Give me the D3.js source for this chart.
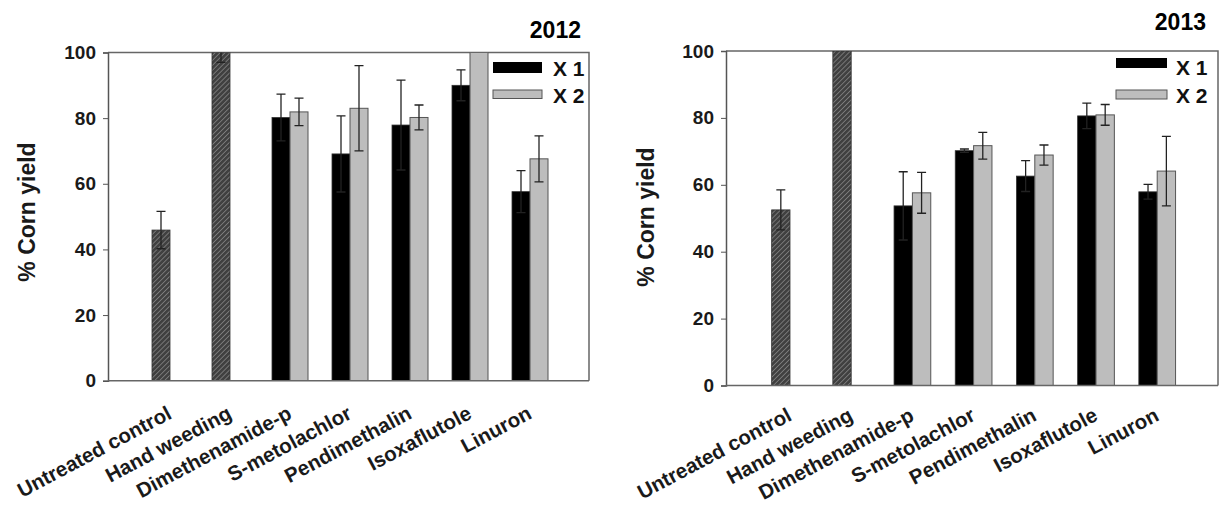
<!DOCTYPE html>
<html>
<head>
<meta charset="utf-8">
<script src="https://cdn.jsdelivr.net/npm/d3@7"></script>
<style>
  html, body { margin: 0; padding: 0; background: #fff; }
  svg { display: block; font-family: "Liberation Sans", Arial, sans-serif; font-weight: bold; }
</style>
</head>
<body>
<svg id="chart" width="1221" height="506"></svg>
<script>
// Treatments on the x axis
const categories = ["Untreated control", "Hand weeding", "Dimethenamide-p", "S-metolachlor",
                    "Pendimethalin", "Isoxaflutole", "Linuron"];
const seriesNames = ["X 1", "X 2"];
const yTicks = [0, 20, 40, 60, 80, 100];

// 2012 corn yield (% of hand-weeded check) and error
const yield2012X1 = [45.9, 100, 80.2, 69.1, 77.9, 90.0, 57.6];
const err2012X1   = [5.7, 3.0, 7.1, 11.6, 13.7, 4.7, 6.4];
const yield2012X2 = [null, null, 81.9, 83.0, 80.2, 100, 67.6];
const err2012X2   = [null, null, 4.2, 13.0, 3.8, 0, 7.0];

// 2013 corn yield and error
const yield2013X1 = [52.5, 100, 53.7, 70.2, 62.6, 80.6, 57.9];
const err2013X1   = [6.0, 0, 10.2, 0.5, 4.6, 3.8, 2.2];
const yield2013X2 = [null, null, 57.6, 71.7, 68.9, 80.9, 64.1];
const err2013X2   = [null, null, 6.1, 4.0, 3.0, 3.1, 10.4];

const svg = d3.select("#chart");

// hatched fill for the two reference treatments
const defs = svg.append("defs");
const pat = defs.append("pattern")
  .attr("id", "hatch").attr("patternUnits", "userSpaceOnUse")
  .attr("width", 3.5).attr("height", 3.5)
  .attr("patternTransform", "rotate(45)");
pat.append("rect").attr("width", 3.5).attr("height", 3.5).attr("fill", "#404040");
pat.append("line").attr("x1", 0).attr("y1", 0).attr("x2", 0).attr("y2", 3.5)
  .attr("stroke", "#8c8c8c").attr("stroke-width", 1.4);

const panels = [
  { id: "p2012", title: "2012", x1: yield2012X1, e1: err2012X1, x2: yield2012X2, e2: err2012X2,
    frame: [108, 589], yr: [380.7, 52.5], band: [140, 560],
    titlePos: [581, 38], ylab: [27, 212], labDy: 37,
    legend: { x: 493, w: 49, y1: 62, h1: 11, y2: 90, h2: 8.5, tx: 553, t1: 76, t2: 103 } },
  { id: "p2013", title: "2013", x1: yield2013X1, e1: err2013X1, x2: yield2013X2, e2: err2013X2,
    frame: [726, 1218], yr: [385.5, 51], band: [759.4, 1187.8],
    titlePos: [1206, 30], ylab: [646, 217], labDy: 34,
    legend: { x: 1116, w: 51, y1: 58, h1: 10, y2: 90, h2: 9, tx: 1176, t1: 75, t2: 103 } }
];

panels.forEach(p => {
  const g = svg.append("g").attr("id", p.id);
  const [L, R] = p.frame;
  const y = d3.scaleLinear().domain([0, 100]).range(p.yr);
  const x = d3.scaleBand().domain(categories).range(p.band).paddingInner(0.4).paddingOuter(0.2);
  const xs = d3.scaleBand().domain(seriesNames).range([0, x.bandwidth()]);
  const top = y(100), bot = y(0);

  // clip everything to the plotting frame
  g.append("clipPath").attr("id", "clip-" + p.id)
    .append("rect").attr("x", L).attr("y", top).attr("width", R - L).attr("height", bot - top);

  // top and right frame lines
  g.append("path")
    .attr("d", `M${L},${top}H${R}V${bot}`)
    .attr("fill", "none").attr("stroke", "#666").attr("stroke-width", 1.5);

  const rows = categories.map((c, i) => ({ c, i }));
  const plot = g.append("g").attr("clip-path", `url(#clip-${p.id})`);

  // first series (hatched for the two reference treatments)
  plot.selectAll("rect.s1").data(rows).join("rect")
    .attr("class", "s1")
    .attr("x", d => x(d.c) + xs("X 1"))
    .attr("width", xs.bandwidth())
    .attr("y", d => y(p.x1[d.i]))
    .attr("height", d => bot - y(p.x1[d.i]))
    .attr("fill", d => d.i < 2 ? "url(#hatch)" : "#000")
    .attr("stroke", "#333").attr("stroke-width", 0.8);

  const rows2 = rows.filter(d => p.x2[d.i] != null);
  plot.selectAll("rect.s2").data(rows2).join("rect")
    .attr("class", "s2")
    .attr("x", d => x(d.c) + xs("X 2"))
    .attr("width", xs.bandwidth())
    .attr("y", d => y(p.x2[d.i]))
    .attr("height", d => bot - y(p.x2[d.i]))
    .attr("fill", "#bdbdbd")
    .attr("stroke", "#555").attr("stroke-width", 1);

  // error bars
  const errs = [];
  rows.forEach(d => {
    if (p.e1[d.i]) errs.push({ cx: x(d.c) + xs("X 1") + xs.bandwidth() / 2, v: p.x1[d.i], e: p.e1[d.i] });
    if (p.x2[d.i] != null && p.e2[d.i]) errs.push({ cx: x(d.c) + xs("X 2") + xs.bandwidth() / 2, v: p.x2[d.i], e: p.e2[d.i] });
  });
  const cap = 4.5;
  plot.selectAll("path.err").data(errs).join("path")
    .attr("class", "err")
    .attr("d", d => {
      const a = y(d.v + d.e), b = y(d.v - d.e);
      return `M${d.cx},${a}V${b}M${d.cx - cap},${a}H${d.cx + cap}M${d.cx - cap},${b}H${d.cx + cap}`;
    })
    .attr("fill", "none").attr("stroke", "#222").attr("stroke-width", 1.3);

  // y axis with outward ticks
  const yAxis = d3.axisLeft(y).tickValues(yTicks).tickSize(5).tickPadding(7);
  const ya = g.append("g").attr("transform", `translate(${L},0)`).call(yAxis);
  ya.select(".domain").attr("stroke", "#555").attr("stroke-width", 1.5);
  ya.selectAll(".tick line").attr("stroke", "#555");
  ya.selectAll(".tick text")
    .attr("font-family", "Liberation Sans, Arial, sans-serif")
    .attr("font-weight", "bold").attr("font-size", 19).attr("fill", "#1a1a1a");

  // x axis baseline and rotated treatment labels
  const xAxis = d3.axisBottom(x).tickSize(0).tickFormat("");
  const xa = g.append("g").attr("transform", `translate(0,${bot})`).call(xAxis);
  xa.select(".domain").attr("d", `M${L},0H${R}`).attr("stroke", "#666").attr("stroke-width", 1.5);
  xa.selectAll(".tick").remove();

  g.selectAll("text.xlab").data(categories).join("text")
    .attr("class", "xlab")
    .attr("transform", c => `translate(${x(c) + x.bandwidth() / 2 + 3},${bot + p.labDy}) rotate(-28)`)
    .attr("text-anchor", "end")
    .attr("font-size", 20.5).attr("fill", "#1a1a1a")
    .text(c => c);

  // y axis title
  g.append("text")
    .attr("transform", `translate(${p.ylab[0]},${p.ylab[1]}) rotate(-90)`)
    .attr("text-anchor", "middle").attr("dy", "0.35em")
    .attr("font-size", 23).attr("fill", "#1a1a1a")
    .text("% Corn yield");

  // panel year
  g.append("text")
    .attr("x", p.titlePos[0]).attr("y", p.titlePos[1])
    .attr("text-anchor", "end").attr("font-size", 23).attr("fill", "#000")
    .text(p.title);

  // legend
  const lg = p.legend;
  g.append("rect").attr("x", lg.x).attr("y", lg.y1).attr("width", lg.w).attr("height", lg.h1)
    .attr("fill", "#000");
  g.append("rect").attr("x", lg.x).attr("y", lg.y2).attr("width", lg.w).attr("height", lg.h2)
    .attr("fill", "#bdbdbd").attr("stroke", "#555").attr("stroke-width", 1);
  g.append("text").attr("x", lg.tx).attr("y", lg.t1).attr("font-size", 21).attr("fill", "#111").text(seriesNames[0]);
  g.append("text").attr("x", lg.tx).attr("y", lg.t2).attr("font-size", 21).attr("fill", "#111").text(seriesNames[1]);
});
</script>
</body>
</html>
